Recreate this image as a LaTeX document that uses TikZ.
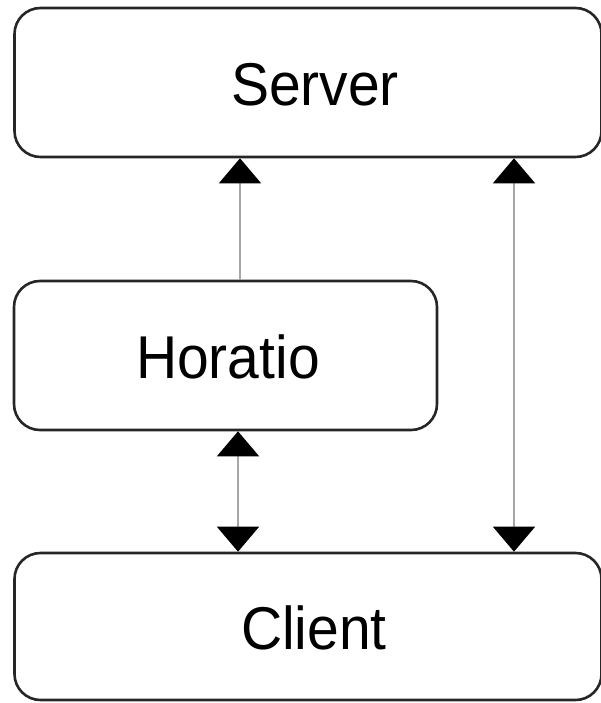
\documentclass[tikz,border=0pt]{standalone}
\usepackage{fontspec}
\setmainfont{Liberation Sans}
\usetikzlibrary{arrows.meta}
\newcommand{\tallish}[1]{\scalebox{1}[1.06]{#1}}
\begin{document}
\begin{tikzpicture}[x=1pt,y=-1pt,
  box/.style={draw=black!85,line width=2.6pt,rounded corners=26pt,inner sep=0pt},
  lbl/.style={font=\fontsize{57}{60}\selectfont,inner sep=0pt},
  conn/.style={draw=black!35,line width=1.6pt},
  tip/.style={-{Triangle[width=42pt,length=25pt,black]}},
  dtip/.style={{Triangle[width=42pt,length=25pt,black]}-{Triangle[width=42pt,length=25pt,black]}}]
\useasboundingbox (0,0) rectangle (600,703);
\node[box,minimum width=587pt,minimum height=149pt] (server) at (308,82.5) {};
\node[box,minimum width=423pt,minimum height=149pt] (horatio) at (225.5,355.5) {};
\node[box,minimum width=587pt,minimum height=147pt] (client) at (308,626.5) {};
\node[lbl] (serverT) at (315,85) {\tallish{Server}};
\node[lbl] (horatioT) at (228,357) {\tallish{Horatio}};
\node[lbl] (clientT) at (314,628) {\tallish{Client}};
\coordinate (c1) at (240,0);
\coordinate (c2) at (238,0);
\coordinate (c3) at (514,0);
\draw[conn,tip] (horatio.north -| c1) -- (server.south -| c1);
\draw[conn,dtip] (horatio.south -| c2) -- (client.north -| c2);
\draw[conn,dtip] (server.south -| c3) -- (client.north -| c3);
\end{tikzpicture}
\end{document}
